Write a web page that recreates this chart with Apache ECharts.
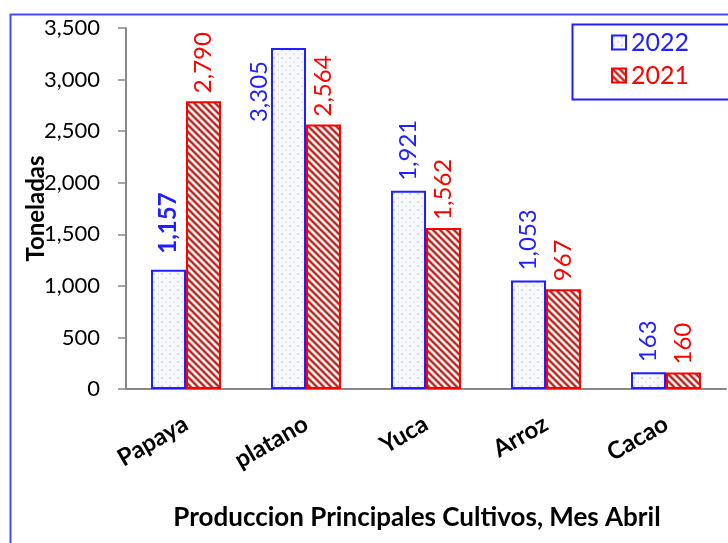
<!DOCTYPE html>
<html>
<head>
<meta charset="utf-8">
<script src="https://cdn.jsdelivr.net/npm/echarts@6/dist/echarts.min.js"></script>
<style>
html,body{margin:0;padding:0;background:#fff;}
#chart{width:728px;height:543px;}
</style>
</head>
<body>
<div id="chart"></div>
<script>
var categories = ['Papaya', 'platano', 'Yuca', 'Arroz', 'Cacao'];
var values2022 = [1157, 3305, 1921, 1053, 163];
var values2021 = [2790, 2564, 1562, 967, 160];
var seriesNames = ['2022', '2021'];
var yMin = 0, yMax = 3500, yInterval = 500;
var xAxisTitle = 'Produccion Principales Cultivos, Mes Abril';
var yAxisTitle = 'Toneladas';

var BLUE = '#1f1fff';
var RED = '#ff0000';
var FONT = 'Lato, "Open Sans", sans-serif';

function dotPattern() {
  var c = document.createElement('canvas');
  c.width = 8; c.height = 8;
  var g = c.getContext('2d');
  g.fillStyle = '#f6f8fc'; g.fillRect(0, 0, 8, 8);
  g.fillStyle = '#d2d2d8';
  g.beginPath(); g.arc(2, 2, 1.1, 0, Math.PI * 2); g.fill();
  g.fillStyle = '#e0e0e4';
  g.beginPath(); g.arc(6, 6, 1.0, 0, Math.PI * 2); g.fill();
  return c;
}
function stripePattern() {
  var s = 7;
  var c = document.createElement('canvas');
  c.width = s; c.height = s;
  var g = c.getContext('2d');
  g.fillStyle = '#fff6ec'; g.fillRect(0, 0, s, s);
  function lines(w, col) {
    g.strokeStyle = col; g.lineWidth = w;
    for (var k = -2; k <= 2; k++) {
      g.beginPath(); g.moveTo(-s, -s + k * s); g.lineTo(2 * s, 2 * s + k * s); g.stroke();
    }
  }
  lines(2.8, '#ec5a5a');
  lines(1.2, '#8a2020');
  return c;
}

var chart = echarts.init(document.getElementById('chart'), null, {renderer: 'canvas'});

function fmt(v) { return v.toLocaleString('en-US'); }

var data2022 = values2022.map(function (v, i) {
  var d = {value: v};
  if (i === 0) {
    d.label = {fontWeight: 'bold', distance: 16};
  }
  if (i === 1) {
    d.label = {position: [-12, 74]};
  }
  return d;
});
var data2021 = values2021.map(function (v) { return {value: v}; });

var option = {
  backgroundColor: '#fff',
  animation: false,
  textStyle: {fontFamily: FONT},
  grid: {left: 126, width: 600, top: 28, bottom: 154, containLabel: false},
  legend: {
    orient: 'vertical',
    left: 606, top: 25,
    icon: 'rect',
    itemWidth: 14, itemHeight: 14,
    itemGap: 8,
    textStyle: {fontSize: 25, fontFamily: FONT},
    data: [
      {name: seriesNames[0], textStyle: {color: BLUE}},
      {name: seriesNames[1], textStyle: {color: RED}}
    ]
  },
  xAxis: {
    type: 'category',
    data: categories,
    name: xAxisTitle,
    nameLocation: 'middle',
    nameGap: 116,
    nameMoveOverlap: false,
    nameTextStyle: {fontSize: 26, fontWeight: 'bold', color: '#000', fontFamily: FONT, padding: [0, 18, 0, 0]},
    axisLine: {lineStyle: {color: '#888', width: 2}},
    axisTick: {show: false},
    axisLabel: {rotate: 30, fontSize: 24, fontWeight: 'bold', color: '#000', margin: 33, fontFamily: FONT}
  },
  yAxis: {
    type: 'value',
    min: yMin, max: yMax, interval: yInterval,
    name: yAxisTitle,
    nameLocation: 'middle',
    nameGap: 78,
    nameMoveOverlap: false,
    nameTextStyle: {fontSize: 24, fontWeight: 'bold', color: '#000', fontFamily: FONT},
    axisLine: {show: true, lineStyle: {color: '#888', width: 2}},
    axisTick: {show: true, length: 8, lineStyle: {color: '#888', width: 1.5}},
    splitLine: {show: false},
    axisLabel: {fontSize: 22, color: '#000', margin: 26, formatter: fmt, fontFamily: FONT}
  },
  series: [
    {
      name: seriesNames[0], type: 'bar', barWidth: 35, barGap: '0%',
      itemStyle: {color: {image: dotPattern(), repeat: 'repeat'}, borderColor: BLUE, borderWidth: 2},
      label: {
        show: true, position: 'top', rotate: 90, align: 'left', verticalAlign: 'middle',
        distance: 10, fontSize: 24, color: BLUE, fontFamily: FONT,
        formatter: function (p) { return fmt(p.value); }
      },
      data: data2022
    },
    {
      name: seriesNames[1], type: 'bar', barWidth: 35, barGap: '0%',
      itemStyle: {color: {image: stripePattern(), repeat: 'repeat'}, borderColor: RED, borderWidth: 2},
      label: {
        show: true, position: 'top', rotate: 90, align: 'left', verticalAlign: 'middle',
        distance: 8, fontSize: 24, color: RED, fontFamily: FONT,
        formatter: function (p) { return fmt(p.value); }
      },
      data: data2021
    }
  ],
  graphic: [
    {type: 'rect', left: 8, top: 12, z: -10, silent: true,
      shape: {width: 760, height: 600},
      style: {fill: 'none', stroke: '#4a4af5', lineWidth: 2}},
    {type: 'rect', left: 570, top: 22, z: 10, silent: true,
      shape: {width: 200, height: 75},
      style: {fill: 'none', stroke: '#1f1fff', lineWidth: 2}}
  ]
};
chart.setOption(option);
</script>
</body>
</html>
